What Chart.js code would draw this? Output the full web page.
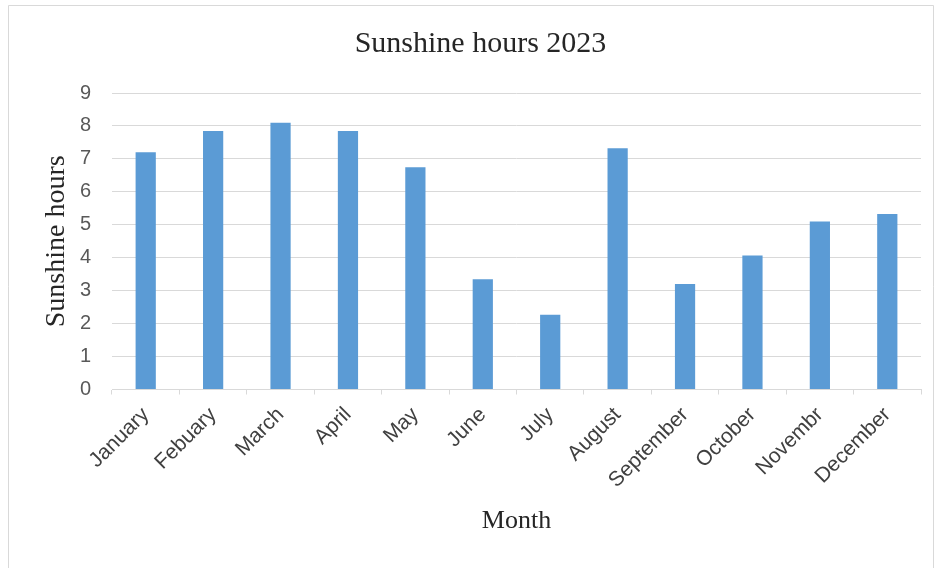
<!DOCTYPE html>
<html>
<head>
<meta charset="utf-8">
<script src="https://cdn.jsdelivr.net/npm/chart.js@4"></script>
<style>
    html, body { margin: 0; padding: 0; background: #ffffff; }
    #wrap { width: 939px; height: 568px; position: relative; }
</style>
</head>
<body>
<div id="wrap"><canvas id="sunChart"></canvas></div>
<script>
// ============================================
// DATA
// ============================================
const months = ['January', 'Febuary', 'March', 'April', 'May', 'June',
    'July', 'August', 'September', 'October', 'Novembr', 'December'];
const sunshineHours = [7.2, 7.85, 8.1, 7.85, 6.75, 3.35, 2.27, 7.32, 3.2, 4.07, 5.1, 5.33];
const yMin = 0;
const yMax = 9;
const yStep = 1;

const chartTitle = 'Sunshine hours 2023';
const xTitle = 'Month';
const yTitle = 'Sunshine hours';

// light frame round the chart, like the exported picture
const framePlugin = {
    id: 'frame',
    beforeDraw(chart) {
        const c = chart.ctx;
        c.save();
        c.fillStyle = '#ffffff';
        c.fillRect(0, 0, chart.width, chart.height);
        c.strokeStyle = '#d9d9d9';
        c.lineWidth = 1;
        c.beginPath();
        c.moveTo(8.5, chart.height);
        c.lineTo(8.5, 5.5);
        c.lineTo(933.5, 5.5);
        c.lineTo(933.5, chart.height);
        c.stroke();
        c.restore();
    }
};

const ctx = document.getElementById('sunChart');

new Chart(ctx, {
    type: 'bar',
    data: {
        labels: months,
        datasets: [{
            label: yTitle,
            data: sunshineHours,
            backgroundColor: '#5b9bd5',
            borderWidth: 0,
            barPercentage: 0.3,
            categoryPercentage: 1
        }]
    },
    options: {
        responsive: true,
        maintainAspectRatio: false,
        animation: false,
        layout: {
            padding: { top: 0, left: 40, right: 18, bottom: 31 }
        },
        plugins: {
            legend: { display: false },
            tooltip: { enabled: false },
            title: {
                display: true,
                text: chartTitle,
                color: '#262626',
                font: { family: 'Liberation Serif', size: 30, weight: 'normal' },
                padding: { top: 26, bottom: 31 }
            }
        },
        scales: {
            x: {
                offset: true,
                grid: {
                    offset: true,
                    drawOnChartArea: false,
                    drawTicks: true,
                    tickLength: 5,
                    color: '#d9d9d9'
                },
                border: { color: '#d9d9d9' },
                ticks: {
                    color: '#404040',
                    font: { family: 'Liberation Sans', size: 21 },
                    maxRotation: 45,
                    minRotation: 45,
                    padding: 8,
                    autoSkip: false
                },
                title: {
                    display: true,
                    text: xTitle,
                    color: '#262626',
                    font: { family: 'Liberation Serif', size: 26 },
                    padding: 0
                },
                afterFit(scale) { scale.height = 147.5; }
            },
            y: {
                min: yMin,
                max: yMax,
                grid: {
                    color: '#d9d9d9',
                    drawTicks: false
                },
                border: { display: false },
                ticks: {
                    stepSize: yStep,
                    color: '#595959',
                    font: { family: 'Liberation Sans', size: 20 },
                    padding: 21
                },
                title: {
                    display: true,
                    text: yTitle,
                    color: '#262626',
                    font: { family: 'Liberation Serif', size: 28 },
                    padding: 0
                },
                afterFit(scale) { scale.width = 72; }
            }
        }
    },
    plugins: [framePlugin]
});
</script>
</body>
</html>
